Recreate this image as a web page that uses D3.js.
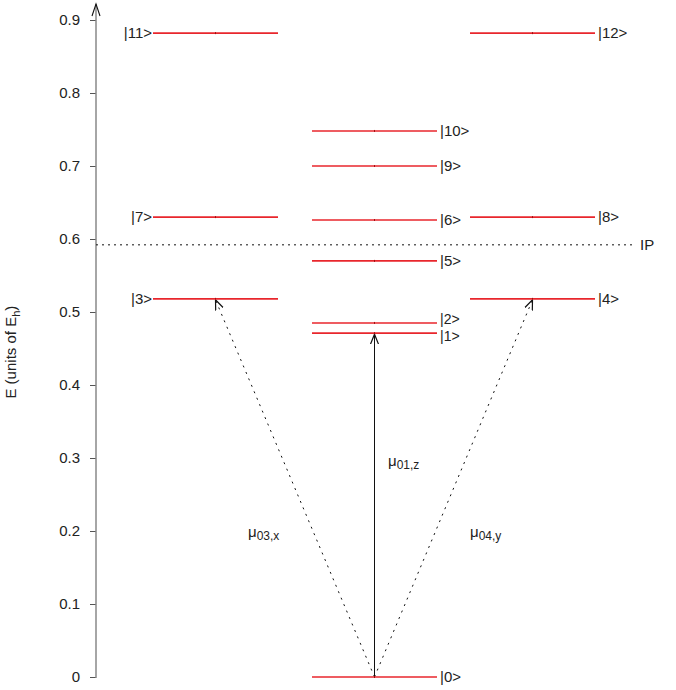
<!DOCTYPE html>
<html>
<head>
<meta charset="utf-8">
<script src="https://cdn.jsdelivr.net/npm/d3@7"></script>
<style>
  body { margin: 0; background: #fff; }
  svg { display: block; font-family: "Liberation Sans", Arial, sans-serif; }
</style>
</head>
<body>
<svg id="chart" width="676" height="690"></svg>
<script>
// Energy levels (units of Eh), the column each sits in, and its label
const stateNames  = ["|0>", "|1>", "|2>", "|3>", "|4>", "|5>", "|6>", "|7>", "|8>", "|9>", "|10>", "|11>", "|12>"];
const stateEnergy = [0, 0.471, 0.485, 0.518, 0.518, 0.570, 0.626, 0.630, 0.630, 0.700, 0.748, 0.882, 0.882];
const stateColumn = ["z", "z", "z", "x", "y", "z", "z", "x", "y", "z", "z", "x", "y"];
const ionizationPotential = 0.592;
const yTicks = [0, 0.1, 0.2, 0.3, 0.4, 0.5, 0.6, 0.7, 0.8, 0.9];

// Transition dipoles: from state, to state, label subscript, line style
const transFrom  = [0, 0, 0];
const transTo    = [1, 3, 4];
const transSub   = ["01,z", "03,x", "04,y"];
const transStyle = ["solid", "dotted", "dotted"];

const svg = d3.select("#chart");
const y = d3.scaleLinear().domain([0, 0.9]).range([677, 20]);
const x = d3.scalePoint().domain(["x", "z", "y"]).range([215.5, 532.5]);
const halfW = 62.5;
const cx = c => c === "z" ? x("z") + 0.5 : x(c);

const red = "#e8262c";
const axisX = 96;
const fs = 15;

// y axis
const axis = d3.axisLeft(y).tickValues(yTicks).tickSize(6).tickPadding(10)
  .tickFormat(d => d === 0 ? "0" : d3.format(".1f")(d));
const g = svg.append("g").attr("transform", `translate(${axisX},0)`).call(axis);
g.select(".domain").remove();
g.selectAll(".tick line").attr("stroke", "#555");
g.selectAll(".tick text").attr("font-size", fs).attr("fill", "#222");
svg.append("line").attr("x1", axisX).attr("x2", axisX).attr("y1", y(0) + 1).attr("y2", 4)
  .attr("stroke", "#888").attr("stroke-width", 1.5);
svg.append("path").attr("d", `M${axisX - 4},${16} L${axisX},${4} L${axisX + 4},${16}`)
  .attr("fill", "none").attr("stroke", "#111").attr("stroke-width", 1.1);

// axis title
svg.append("text")
  .attr("transform", `translate(16,${y(0.445)}) rotate(-90)`)
  .attr("text-anchor", "middle").attr("font-size", fs).attr("fill", "#222")
  .call(t => {
    t.append("tspan").text("E (units of E");
    t.append("tspan").attr("font-size", 11).attr("dy", 4).text("h");
    t.append("tspan").attr("dy", -4).text(")");
  });

// ionization potential
svg.append("line").attr("x1", axisX).attr("x2", 634)
  .attr("y1", y(ionizationPotential)).attr("y2", y(ionizationPotential))
  .attr("stroke", "#111").attr("stroke-dasharray", "2,4");
svg.append("text").attr("x", 640).attr("y", y(ionizationPotential) + 5)
  .attr("font-size", fs).attr("fill", "#222").text("IP");

// arrowhead marker
const defs = svg.append("defs");
defs.append("marker").attr("id", "head").attr("viewBox", "0 0 10 10")
  .attr("refX", 10).attr("refY", 5).attr("markerWidth", 10).attr("markerHeight", 10)
  .attr("markerUnits", "userSpaceOnUse").attr("orient", "auto")
  .append("path").attr("d", "M0,1 L10,5 L0,9").attr("fill", "none")
  .attr("stroke", "#111").attr("stroke-width", 1.2);

// transitions
transFrom.forEach((f, i) => {
  const t = transTo[i];
  svg.append("line")
    .attr("x1", cx(stateColumn[f])).attr("y1", y(stateEnergy[f]))
    .attr("x2", cx(stateColumn[t])).attr("y2", y(stateEnergy[t]) + 1)
    .attr("stroke", "#111").attr("stroke-width", 1)
    .attr("stroke-dasharray", transStyle[i] === "dotted" ? "2,5" : null)
    .attr("marker-end", "url(#head)");
});

// energy levels
stateNames.forEach((name, i) => {
  const c = stateColumn[i];
  const xc = cx(c);
  const yy = y(stateEnergy[i]);
  svg.append("line").attr("x1", xc - halfW).attr("x2", xc + halfW)
    .attr("y1", yy).attr("y2", yy).attr("stroke", red).attr("stroke-width", 1.6);
  svg.append("line").attr("x1", xc).attr("x2", xc).attr("y1", yy - 1).attr("y2", yy + 1)
    .attr("stroke", "#a01010").attr("stroke-width", 1);
  const left = c === "x";
  // the two closely spaced levels get their labels nudged apart
  const close = name === "|1>" || name === "|2>";
  let ly = yy + 5;
  if (name === "|2>") ly = yy + 1;
  if (name === "|1>") ly = yy + 8;
  svg.append("text")
    .attr("x", left ? xc - halfW - 1 : xc + halfW + 3)
    .attr("y", ly)
    .attr("text-anchor", left ? "end" : "start")
    .attr("font-size", close ? 14 : fs).attr("fill", "#222").text(name);
});

// transition labels
const labelPos = [[388, 466], [248, 537], [470, 537]];
transSub.forEach((s, i) => {
  svg.append("text").attr("x", labelPos[i][0]).attr("y", labelPos[i][1])
    .attr("font-size", fs).attr("fill", "#222")
    .call(t => {
      t.append("tspan").text("\u03bc");
      t.append("tspan").attr("font-size", 12).attr("dy", 3).text(s);
    });
});
</script>
</body>
</html>
